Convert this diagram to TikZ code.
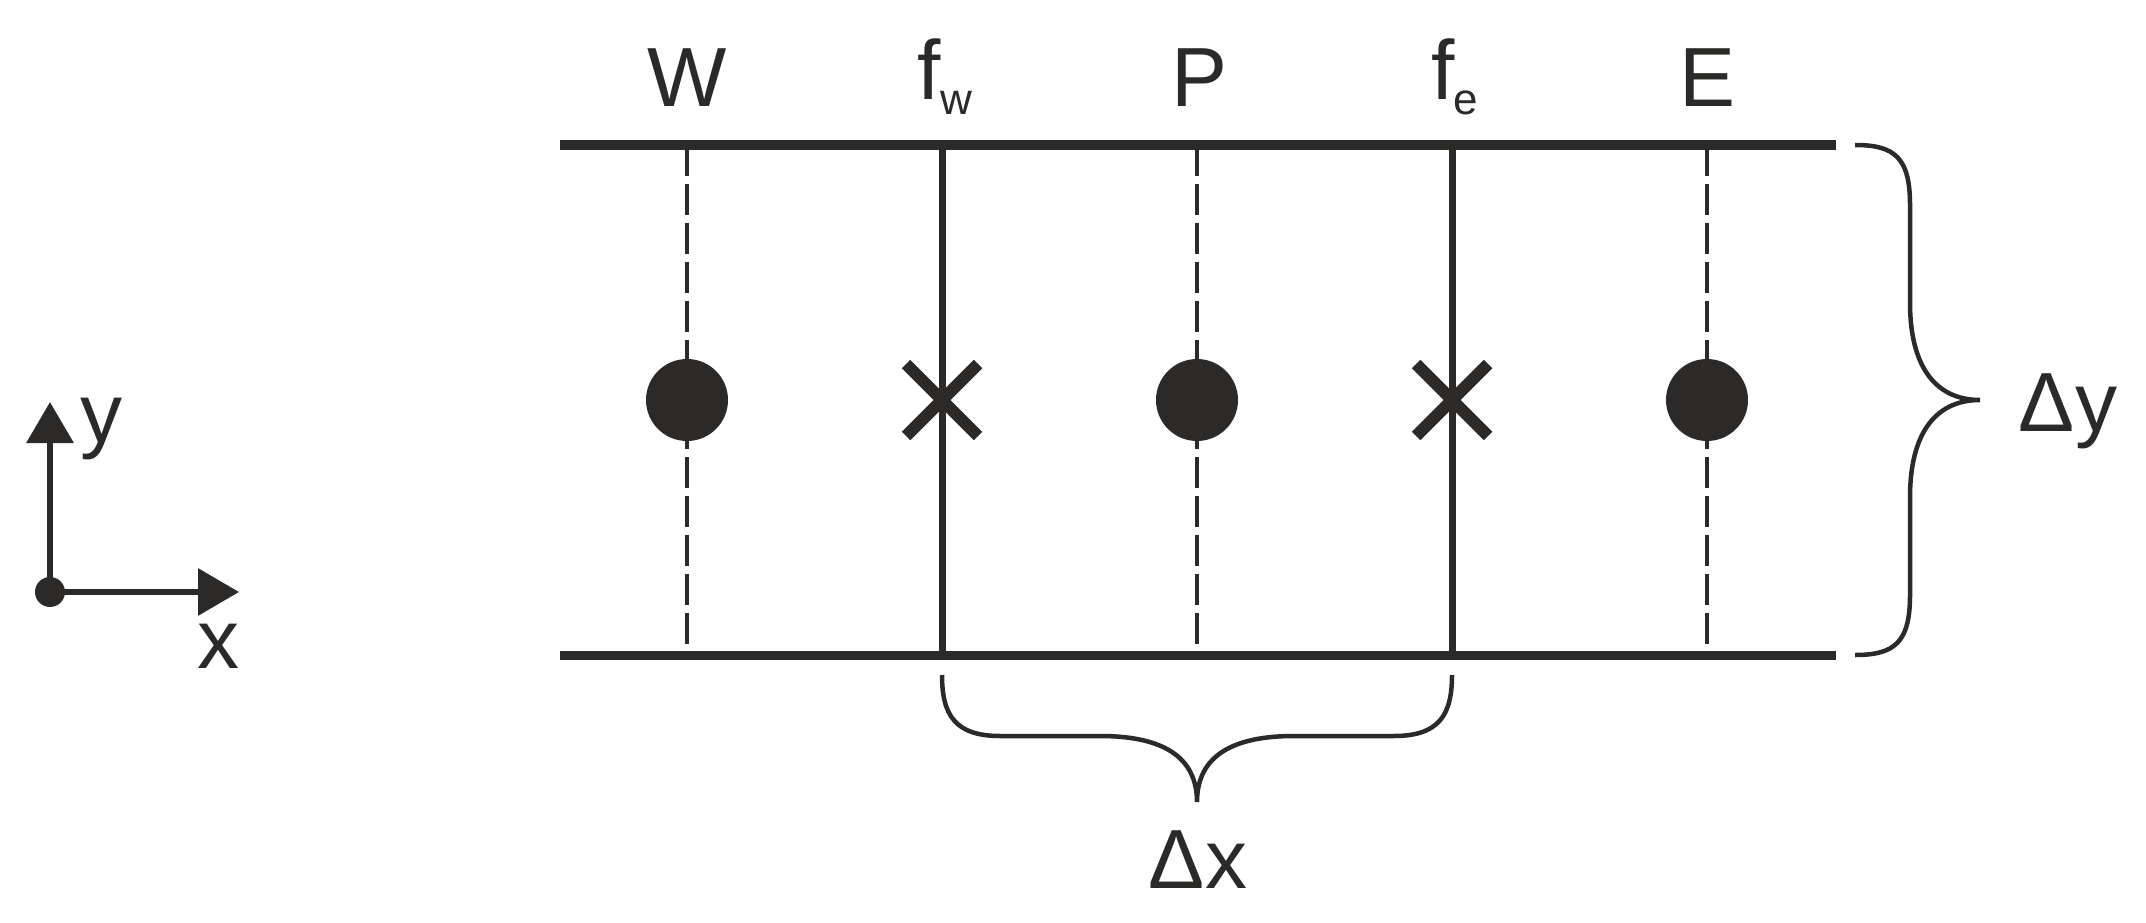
\documentclass[tikz,border=0pt]{standalone}
\usepackage{fontspec}
\setmainfont{Liberation Sans}
\usetikzlibrary{arrows.meta}
\definecolor{ink}{RGB}{43,42,41}
\begin{document}
\begin{tikzpicture}[x=1pt,y=-1pt,
  lbl/.style={font=\fontsize{84}{90}\selectfont, text=ink, inner sep=0pt, anchor=base},
  rail/.style={line width=9pt, draw=ink},
  face/.style={line width=7pt, draw=ink},
  gridline/.style={line width=4.5pt, draw=ink, dash pattern=on 31pt off 8pt},
  bracepath/.style={line width=4.5pt, draw=ink},
  bigdot/.style={circle, fill=ink, inner sep=0pt, minimum size=82pt},
  smalldot/.style={circle, fill=ink, inner sep=0pt, minimum size=30pt},
  crossmark/.style={line width=12pt, draw=ink},
  axis/.style={line width=6.5pt, draw=ink, -{Triangle[width=46pt,length=41pt]}}
]
\newcommand{\subf}[1]{\kern-1pt\lower15pt\hbox{\fontsize{44}{48}\selectfont #1}}
\useasboundingbox (0,0) rectangle (2146,923);

% rails
\coordinate (TL) at (560,145); \coordinate (TR) at (1836,145);
\coordinate (BL) at (560,655); \coordinate (BR) at (1836,655);

% grid positions
\coordinate (Wt) at (687,145);  \coordinate (Wb) at (687,655);
\coordinate (FWt) at (942,145); \coordinate (FWb) at (942,655);
\coordinate (Pt) at (1197,145); \coordinate (Pb) at (1197,655);
\coordinate (FEt) at (1452,145);\coordinate (FEb) at (1452,655);
\coordinate (Et) at (1707,145); \coordinate (Eb) at (1707,655);

\draw[gridline] (Wt) -- (Wb);
\draw[gridline] (Pt) -- (Pb);
\draw[gridline] (Et) -- (Eb);
\draw[face] (FWt) -- (FWb);
\draw[face] (FEt) -- (FEb);
\draw[rail] (TL) -- (TR);
\draw[rail] (BL) -- (BR);

% nodes
\node[bigdot] (Wn) at (687,400) {};
\node[bigdot] (Pn) at (1197,400) {};
\node[bigdot] (En) at (1707,400) {};
\draw[crossmark] (906,364) -- (978,436);
\draw[crossmark] (906,436) -- (978,364);
\draw[crossmark] (1416,364) -- (1488,436);
\draw[crossmark] (1416,436) -- (1488,364);

% labels
\node[lbl] (Wl) at (687,107) {W};
\node[lbl] (FWl) at (945,100) {f\subf{w}};
\node[lbl] (Pl) at (1199,107) {P};
\node[lbl] (FEl) at (1455,100) {f\subf{e}};
\node[lbl] (El) at (1707,107) {E};

% right brace
\draw[bracepath] (1855,145) .. controls (1895,145) and (1910,158) .. (1910,205)
  -- (1910,303) .. controls (1910,363) and (1933,400) .. (1980,400)
  .. controls (1933,400) and (1910,437) .. (1910,497)
  -- (1910,595) .. controls (1910,642) and (1895,655) .. (1855,655);
\node[lbl] (dy) at (2068,431) {Δy};

% bottom brace
\draw[bracepath] (942,675) .. controls (942,715) and (955,736) .. (1000,736)
  -- (1100,736) .. controls (1160,736) and (1197,755) .. (1197,802)
  .. controls (1197,755) and (1234,736) .. (1294,736)
  -- (1394,736) .. controls (1439,736) and (1452,715) .. (1452,675);
\node[lbl] (dx) at (1198,888) {Δx};

% axes
\node[smalldot] (O) at (50,592) {};
\coordinate (ytip) at (50,402);
\coordinate (xtip) at (239,592);
\draw[axis] (O.center) -- (ytip);
\draw[axis] (O.center) -- (xtip);
\node[lbl] (yl) at (101,442) {y};
\node[lbl] (xl) at (218,668) {x};
\end{tikzpicture}
\end{document}
